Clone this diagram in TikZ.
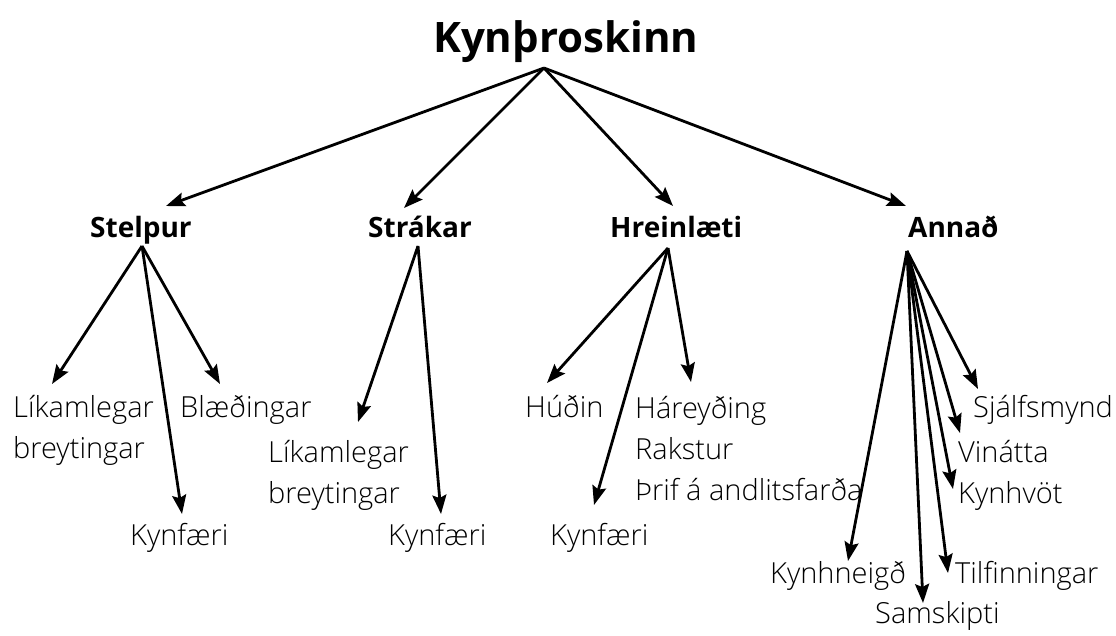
\documentclass[tikz,border=0pt]{standalone}
\usepackage{fontspec}
\setmainfont{Open Sans}[UprightFont=* Light, BoldFont=* Bold]
\usetikzlibrary{arrows.meta}
\begin{document}
\begin{tikzpicture}[x=1pt,y=-1pt,
  arr/.style={line width=2.8pt,-{Stealth[length=19pt,width=14pt,inset=3pt]}},
  leaf/.style={inner sep=0pt,anchor=base west,align=left,font=\fontsize{29}{41}\selectfont},
  head/.style={inner sep=0pt,anchor=base west,font=\fontsize{28}{32}\selectfont\bfseries},
  ttl/.style={inner sep=0pt,anchor=base west,font=\fontsize{42}{48}\selectfont\bfseries}]
\useasboundingbox (0,0) rectangle (1116,635);
\node[ttl] (title) at (433,52) {Kynþroskinn};
\coordinate (ta) at (544,68);
\node[head] (st) at (90,237) {Stelpur};
\node[head] (sk) at (368,237) {Strákar};
\node[head] (hr) at (610,237) {Hreinlæti};
\node[head] (an) at (908,237) {Annað};
\coordinate (stT) at (166,206);
\coordinate (skT) at (404,208);
\coordinate (hrT) at (673,206);
\coordinate (anT) at (906,206);
\foreach \t in {stT,skT,hrT,anT} \draw[arr] (ta) -- (\t);
% Stelpur
\coordinate (stA) at (142,246);
\node[leaf] (s1) at (13,458) {Líkamlegar\\breytingar};
\node[leaf] (s2) at (180,417) {Blæðingar};
\node[leaf] (s3) at (130,545) {Kynfæri};
\coordinate (s1T) at (52,384);
\coordinate (s2T) at (220,384);
\coordinate (s3T) at (182,514);
\foreach \t in {s1T,s2T,s3T} \draw[arr] (stA) -- (\t);
% Strakar
\coordinate (skA) at (418,246);
\node[leaf] (k1) at (268,503) {Líkamlegar\\breytingar};
\node[leaf] (k2) at (388,545) {Kynfæri};
\coordinate (k1T) at (358,422);
\coordinate (k2T) at (441,514);
\foreach \t in {k1T,k2T} \draw[arr] (skA) -- (\t);
% Hreinlaeti
\coordinate (hrA) at (668,248);
\node[leaf] (h1) at (525,417) {Húðin};
\node[leaf] (h2) at (635,500) {Háreyðing\\Rakstur\\Þrif á andlitsfarða};
\node[leaf] (h3) at (550,545) {Kynfæri};
\coordinate (h1T) at (547,383);
\coordinate (h2T) at (691,382);
\coordinate (h3T) at (594,505);
\foreach \t in {h1T,h2T,h3T} \draw[arr] (hrA) -- (\t);
% Annad
\coordinate (anA) at (907,251);
\node[leaf] (a1) at (973,417) {Sjálfsmynd};
\node[leaf] (a2) at (958,462) {Vinátta};
\node[leaf] (a3) at (958,503) {Kynhvöt};
\node[leaf] (a4) at (770,583) {Kynhneigð};
\node[leaf] (a5) at (955,583) {Tilfinningar};
\node[leaf] (a6) at (875,623) {Samskipti};
\coordinate (a1T) at (978,389);
\coordinate (a2T) at (960,433);
\coordinate (a3T) at (953,489);
\coordinate (a4T) at (848,561);
\coordinate (a5T) at (948,573);
\coordinate (a6T) at (923,603);
\foreach \t in {a1T,a2T,a3T,a4T,a5T,a6T} \draw[arr] (anA) -- (\t);
\end{tikzpicture}
\end{document}
